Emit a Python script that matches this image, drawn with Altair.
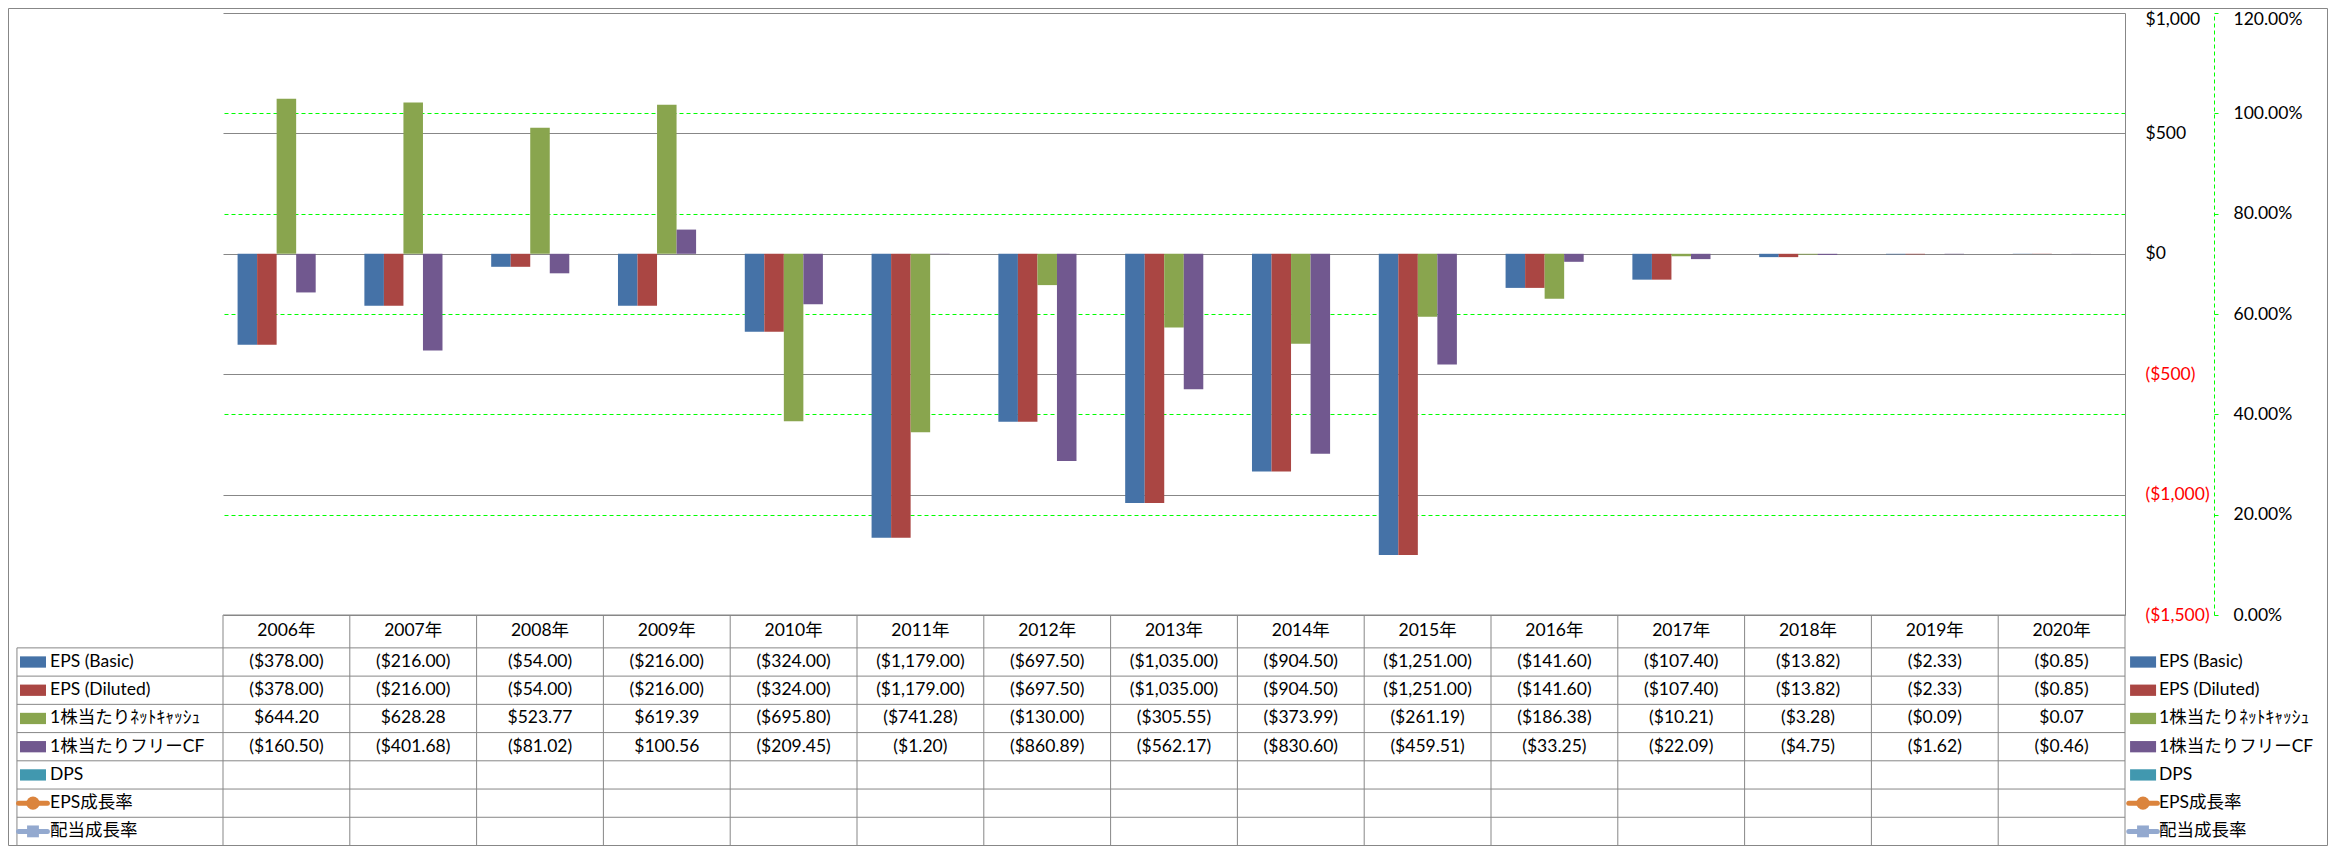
import altair as alt
import pandas as pd

# ---------------- data ----------------
years = ["2006年", "2007年", "2008年", "2009年", "2010年", "2011年", "2012年", "2013年",
         "2014年", "2015年", "2016年", "2017年", "2018年", "2019年", "2020年"]

eps_basic = [-378.00, -216.00, -54.00, -216.00, -324.00, -1179.00, -697.50, -1035.00,
             -904.50, -1251.00, -141.60, -107.40, -13.82, -2.33, -0.85]
eps_diluted = [-378.00, -216.00, -54.00, -216.00, -324.00, -1179.00, -697.50, -1035.00,
               -904.50, -1251.00, -141.60, -107.40, -13.82, -2.33, -0.85]
net_cash = [644.20, 628.28, 523.77, 619.39, -695.80, -741.28, -130.00, -305.55,
            -373.99, -261.19, -186.38, -10.21, -3.28, -0.09, 0.07]
free_cf = [-160.50, -401.68, -81.02, 100.56, -209.45, -1.20, -860.89, -562.17,
           -830.60, -459.51, -33.25, -22.09, -4.75, -1.62, -0.46]
dps = [None] * 15
eps_growth = [None] * 15
div_growth = [None] * 15

series_names = ["EPS (Basic)", "EPS (Diluted)", "1株当たりﾈｯﾄｷｬｯｼｭ", "1株当たりフリーCF",
                "DPS", "EPS成長率", "配当成長率"]
series_values = [eps_basic, eps_diluted, net_cash, free_cf, dps, eps_growth, div_growth]
series_kind = ["bar", "bar", "bar", "bar", "bar", "circle", "square"]
series_colors = ["#4572A7", "#AA4643", "#89A54E", "#71588F", "#4198AF", "#DB843D", "#93A9CF"]

money_ticks = [-1500, -1000, -500, 0, 500, 1000]
pct_ticks = [0.0, 0.2, 0.4, 0.6, 0.8, 1.0, 1.2]

# ---------------- style ----------------
FONT = "Lato, Noto Sans CJK JP, sans-serif"
FS = 17.5
GRAY = "#878787"
GREEN = "#00FF00"
W, H = 1902, 833
PLOT_H = 602
TOP_SHIFT = 6

bar_names = series_names[:5]
bar_colors = series_colors[:5]

rows = []
for name, vals in zip(bar_names, series_values[:5]):
    for yr, v in zip(years, vals):
        if v is not None:
            rows.append({"year": yr, "series": name, "value": v})
bars_df = pd.DataFrame(rows)

money_label = ("datum.value < 0 ? '($' + format(-datum.value, ',') + ')' : "
               "'$' + format(datum.value, ',')")

bars = alt.Chart(bars_df).mark_bar().encode(
    x=alt.X("year:N", sort=years, axis=None,
            scale=alt.Scale(domain=years, paddingInner=0.23, paddingOuter=0.115)),
    xOffset=alt.XOffset("series:N", scale=alt.Scale(domain=bar_names)),
    y=alt.Y("value:Q", stack=None,
            scale=alt.Scale(domain=[-1500, 1000], range=[PLOT_H, 0], nice=False),
            axis=alt.Axis(orient="right", values=money_ticks, title=None,
                          grid=True, gridColor=GRAY, gridWidth=1,
                          domain=True, domainColor=GRAY, ticks=False,
                          labelPadding=20, labelExpr=money_label,
                          labelColor=alt.condition("datum.value < 0", alt.value("#FF0000"),
                                                   alt.value("#000000")),
                          labelOffset=alt.condition("datum.value > 999", alt.value(TOP_SHIFT),
                                                    alt.value(0)),
                          labelFont=FONT, labelFontSize=FS, labelAlign="left",
                          labelBaseline="middle")),
    color=alt.Color("series:N", scale=alt.Scale(domain=bar_names, range=bar_colors),
                    legend=None),
)

growth_df = pd.DataFrame({"year": years, "growth": eps_growth})
pct = alt.Chart(growth_df).mark_line(color=series_colors[5]).encode(
    x=alt.X("year:N", sort=years, axis=None),
    y=alt.Y("growth:Q",
            scale=alt.Scale(domain=[0, 1.2], range=[PLOT_H, 0], nice=False, zero=False),
            axis=alt.Axis(orient="right", offset=89, values=pct_ticks, format=".2%",
                          title=None, grid=True, gridColor=GREEN, gridDash=[4, 3],
                          gridOpacity=alt.condition("datum.value < 0.01 || datum.value > 1.19",
                                                    alt.value(0), alt.value(1)),
                          domainColor=GREEN, domainDash=[4, 3],
                          tickColor=GREEN, tickSize=4, labelPadding=15,
                          labelOffset=alt.condition("datum.value > 1.19", alt.value(TOP_SHIFT),
                                                    alt.value(0)),
                          labelFont=FONT, labelFontSize=FS, labelColor="#000000",
                          labelAlign="left", labelBaseline="middle")),
)

# ---------------- data table ----------------
NCOL = len(years)
HEADER = 1.165
NROW = len(series_names)
BOTTOM = HEADER + NROW
LEFT_EDGE = -1.625
TX = alt.Scale(domain=[0, NCOL], range=[0, W], nice=False, zero=False)
TY = alt.Scale(domain=[0, BOTTOM], range=[PLOT_H, H - 0.5], nice=False, zero=False)

h_rows = [{"x1": 0, "x2": NCOL, "yy": 0}]
for k in range(NROW + 1):
    h_rows.append({"x1": LEFT_EDGE, "x2": NCOL, "yy": HEADER + k})
hlines = alt.Chart(pd.DataFrame(h_rows)).mark_rule(color=GRAY, strokeWidth=1).encode(
    x=alt.X("x1:Q", scale=TX, axis=None), x2="x2:Q",
    y=alt.Y("yy:Q", scale=TY, axis=None))

v_rows = [{"xx": i, "y1": 0, "y2": BOTTOM} for i in range(NCOL + 1)]
v_rows.append({"xx": LEFT_EDGE, "y1": HEADER, "y2": BOTTOM})
vlines = alt.Chart(pd.DataFrame(v_rows)).mark_rule(color=GRAY, strokeWidth=1).encode(
    x=alt.X("xx:Q", scale=TX, axis=None),
    y=alt.Y("y1:Q", scale=TY, axis=None), y2="y2:Q")

head_df = pd.DataFrame({"tx": [i + 0.5 for i in range(NCOL)],
                        "ty": [HEADER / 2] * NCOL, "label": years})
head_text = alt.Chart(head_df).mark_text(font=FONT, fontSize=FS, color="#000000",
                                         align="center", baseline="middle").encode(
    x=alt.X("tx:Q", scale=TX, axis=None), y=alt.Y("ty:Q", scale=TY, axis=None),
    text="label:N")


def fmt(v):
    return f"(${abs(v):,.2f})" if v < 0 else f"${v:,.2f}"


cells = []
for k, vals in enumerate(series_values):
    for i, v in enumerate(vals):
        if v is not None:
            cells.append({"tx": i + 0.5, "ty": HEADER + k + 0.5, "label": fmt(v)})
cell_text = alt.Chart(pd.DataFrame(cells)).mark_text(
    font=FONT, fontSize=FS, color="#000000", align="center", baseline="middle").encode(
    x=alt.X("tx:Q", scale=TX, axis=None), y=alt.Y("ty:Q", scale=TY, axis=None),
    text="label:N")

# legend keys: left (in table) and right (legend)
sides = [
    {"k1": -1.601, "k2": -1.396, "kc": -1.4985, "l1": -1.612, "l2": -1.385, "t": -1.364},
    {"k1": 15.04, "k2": 15.245, "kc": 15.142, "l1": 15.03, "l2": 15.255, "t": 15.268},
]
leg = []
for s in sides:
    for k, (name, kind, col) in enumerate(zip(series_names, series_kind, series_colors)):
        ty = HEADER + k + 0.5
        leg.append({"name": name, "kind": kind, "color": col, "ty": ty,
                    "ty1": ty - 0.2, "ty2": ty + 0.2, **s})
leg_df = pd.DataFrame(leg)

leg_rect = alt.Chart(leg_df).transform_filter("datum.kind == 'bar'").mark_rect().encode(
    x=alt.X("k1:Q", scale=TX, axis=None), x2="k2:Q",
    y=alt.Y("ty1:Q", scale=TY, axis=None), y2="ty2:Q",
    color=alt.Color("color:N", scale=None))
leg_line = alt.Chart(leg_df).transform_filter("datum.kind != 'bar'").mark_rule(
    strokeWidth=5, strokeCap="round").encode(
    x=alt.X("l1:Q", scale=TX, axis=None), x2="l2:Q",
    y=alt.Y("ty:Q", scale=TY, axis=None),
    color=alt.Color("color:N", scale=None))
leg_circle = alt.Chart(leg_df).transform_filter("datum.kind == 'circle'").mark_point(
    shape="circle", filled=True, size=175, opacity=1).encode(
    x=alt.X("kc:Q", scale=TX, axis=None), y=alt.Y("ty:Q", scale=TY, axis=None),
    color=alt.Color("color:N", scale=None))
leg_square = alt.Chart(leg_df).transform_filter("datum.kind == 'square'").mark_point(
    shape="square", filled=True, size=140, opacity=1).encode(
    x=alt.X("kc:Q", scale=TX, axis=None), y=alt.Y("ty:Q", scale=TY, axis=None),
    color=alt.Color("color:N", scale=None))
leg_text = alt.Chart(leg_df).mark_text(font=FONT, fontSize=FS, color="#000000",
                                       align="left", baseline="middle").encode(
    x=alt.X("t:Q", scale=TX, axis=None), y=alt.Y("ty:Q", scale=TY, axis=None),
    text="name:N")

table = alt.layer(hlines, vlines, head_text, cell_text, leg_rect, leg_line,
                  leg_circle, leg_square, leg_text)

frame = alt.Chart(pd.DataFrame({"a": [0]})).mark_rect(
    fillOpacity=0, stroke=GRAY, strokeWidth=1).encode(
    x=alt.value(-214.5), x2=alt.value(W + 202.5), y=alt.value(-4.5), y2=alt.value(H - 0.5))

chart = alt.layer(bars, pct, table, frame).resolve_scale(
    x="independent", y="independent"
).properties(
    width=W, height=H,
    padding={"left": 215, "top": 5, "right": 203, "bottom": 0},
    autosize=alt.AutoSizeParams(type="none"),
).configure_view(stroke=None)

chart.save("out.html", embed_options={"renderer": "svg", "actions": False})
